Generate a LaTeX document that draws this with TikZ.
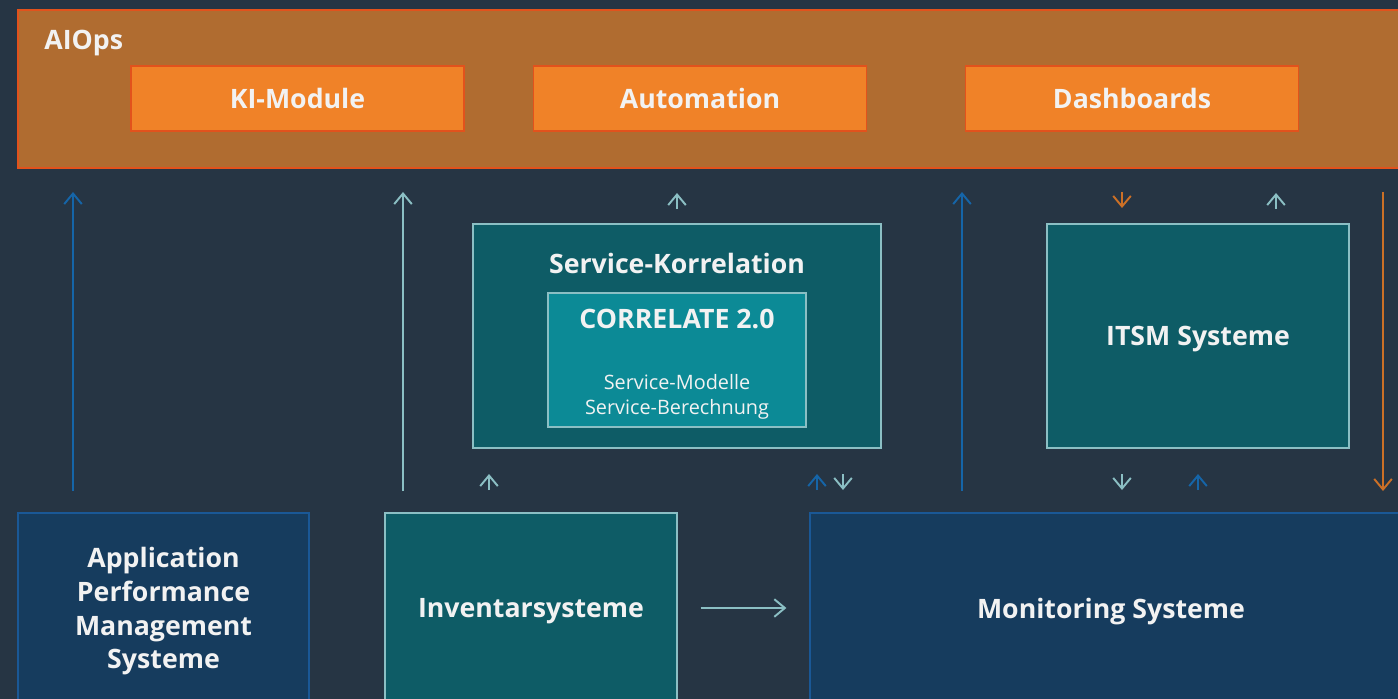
\documentclass[tikz,border=0pt]{standalone}
\usepackage{fontspec}
\setmainfont{Open Sans}
\usetikzlibrary{arrows.meta, positioning}

\definecolor{bgdark}{RGB}{38,53,68}
\definecolor{aiopsfill}{RGB}{176,108,48}
\definecolor{aiopsline}{RGB}{226,82,28}
\definecolor{modorange}{RGB}{240,130,40}
\definecolor{tealdark}{RGB}{14,92,102}
\definecolor{teallight}{RGB}{12,138,150}
\definecolor{tealline}{RGB}{139,191,196}
\definecolor{navyfill}{RGB}{22,60,94}
\definecolor{navyline}{RGB}{26,88,150}
\definecolor{bluearr}{RGB}{21,101,168}
\definecolor{orangearr}{RGB}{204,112,38}
\definecolor{txtwhite}{RGB}{242,242,242}

\begin{document}
\begin{tikzpicture}[
            x=0.02cm, y=-0.02cm,
            box/.style={rectangle, draw, line width=0.8pt, align=center, inner sep=0pt,
                        text depth=0pt, text=txtwhite, font=\fontsize{15.2}{19.2}\selectfont\bfseries},
            modbox/.style={box, fill=modorange, draw=aiopsline,
                           minimum width=6.66cm, minimum height=1.3cm},
            tealbox/.style={box, fill=tealdark, draw=tealline},
            navybox/.style={box, fill=navyfill, draw=navyline},
            title/.style={text=txtwhite, font=\fontsize{15.2}{19}\selectfont\bfseries, inner sep=0pt},
            small/.style={text=txtwhite, font=\fontsize{11.3}{14}\selectfont, inner sep=0pt},
            arrow/.style={-{Straight Barb[length=6pt, width=10pt]}, line width=1.1pt},
            tealarrow/.style={arrow, tealline},
            bluearrow/.style={arrow, bluearr},
            orangearrow/.style={arrow, orangearr}
        ]

        \fill[bgdark] (0,0) rectangle (1398,699);
        \useasboundingbox (0,0) rectangle (1398,699);
        \clip (0,0) rectangle (1398,699);

        % ===== AIOPS LAYER =====
        \node[box, fill=aiopsfill, draw=aiopsline, minimum width=28.04cm, minimum height=3.16cm] (aiops) at (719,89) {};
        \node[title, anchor=west] (aiopslbl) at (44,43) {AIOps};
        \node[modbox] (ki) at (297.5,98.5) {KI-Module};
        \node[modbox] (auto) at (700,98.5) {Automation};
        \node[modbox] (dash) at (1132,98.5) {Dashboards};

        % ===== MIDDLE LAYER =====
        \node[tealbox, minimum width=8.16cm, minimum height=4.48cm] (svc) at (677,336) {};
        \node[title] (svclbl) at (677,263) {Service-Korrelation};
        \node[box, fill=teallight, draw=tealline, minimum width=5.16cm, minimum height=2.68cm] (corr) at (677,360) {};
        \node[title] (corrlbl) at (677,319) {CORRELATE 2.0};
        \node[small, align=center] (corrtxt) at (677,397) {Service-Modelle\\Service-Berechnung};
        \node[tealbox, minimum width=6.04cm, minimum height=4.48cm] (itsm) at (1198,336) {ITSM Systeme};

        % ===== SOURCE SYSTEMS =====
        \node[navybox, minimum width=5.82cm, minimum height=3.8cm] (apm) at (163.5,608)
            {Application\\Performance\\Management\\Systeme};
        \node[tealbox, minimum width=5.84cm, minimum height=3.8cm] (inv) at (531,608) {Inventarsysteme};
        \node[navybox, minimum width=12.04cm, minimum height=3.8cm] (mon) at (1111,608) {Monitoring Systeme};

        % ===== ARROW END POINTS =====
        % long connectors between source systems and AIOps
        \coordinate (apmout) at (73,491);   \coordinate (apmin) at (73,192);
        \coordinate (invout) at (403,491);  \coordinate (invin) at (403,192);
        \coordinate (monout) at (962,491);  \coordinate (monin) at (962,192);
        \coordinate (dashout) at (1383,192); \coordinate (dashin) at (1383,491);
        % short stubs above and below the middle boxes
        \coordinate (svcup1) at (677,209);  \coordinate (svcup2) at (677,193);
        \coordinate (itsmdn1) at (1122,192); \coordinate (itsmdn2) at (1122,208);
        \coordinate (itsmup1) at (1276,209); \coordinate (itsmup2) at (1276,193);
        \coordinate (svclo1) at (489,490);  \coordinate (svclo2) at (489,474);
        \coordinate (svclo3) at (817,490);  \coordinate (svclo4) at (817,474);
        \coordinate (svclo5) at (843,474);  \coordinate (svclo6) at (843,490);
        \coordinate (itsmlo1) at (1122,474); \coordinate (itsmlo2) at (1122,490);
        \coordinate (itsmlo3) at (1198,490); \coordinate (itsmlo4) at (1198,474);

        % ===== ARROWS =====
        \draw[bluearrow] (apmout) -- (apmin);
        \draw[tealarrow] (invout) -- (invin);
        \draw[bluearrow] (monout) -- (monin);
        \draw[orangearrow] (dashout) -- (dashin);

        \draw[tealarrow] (svcup1) -- (svcup2);
        \draw[orangearrow] (itsmdn1) -- (itsmdn2);
        \draw[tealarrow] (itsmup1) -- (itsmup2);

        \draw[tealarrow] (svclo1) -- (svclo2);
        \draw[bluearrow] (svclo3) -- (svclo4);
        \draw[tealarrow] (svclo5) -- (svclo6);
        \draw[tealarrow] (itsmlo1) -- (itsmlo2);
        \draw[bluearrow] (itsmlo3) -- (itsmlo4);

        % Inventar feeds Monitoring
        \draw[tealarrow] ([xshift=0.46cm]inv.east) -- ([xshift=-0.46cm]mon.west);

        \end{tikzpicture}
\end{document}
